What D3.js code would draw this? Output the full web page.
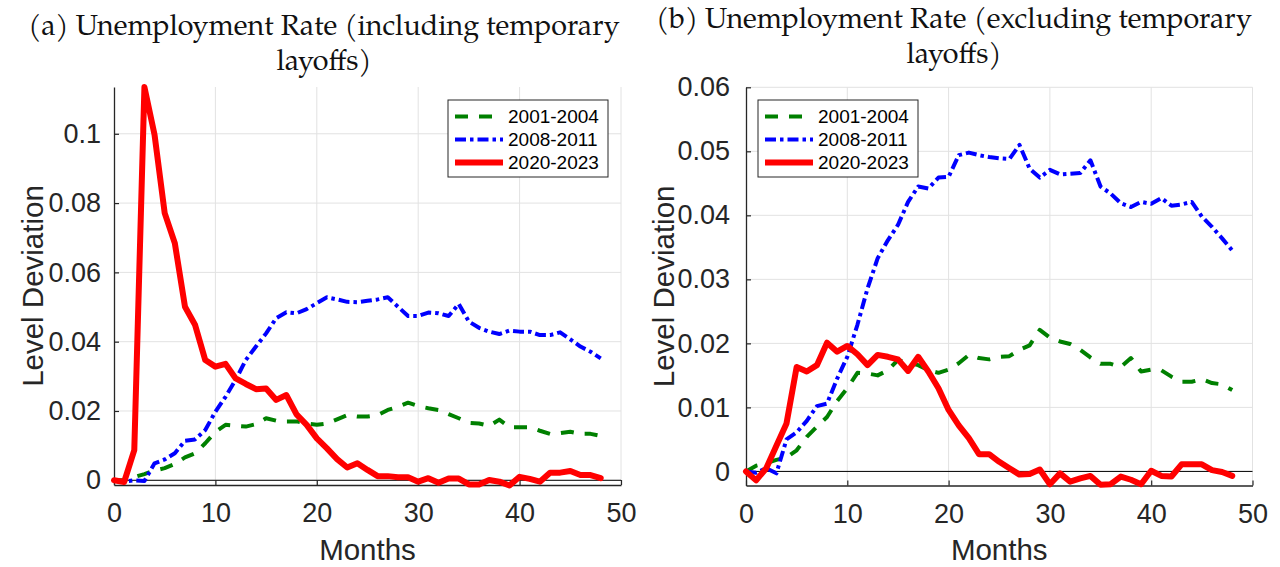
<!DOCTYPE html>
<html>
<head>
<meta charset="utf-8">
<script src="https://cdn.jsdelivr.net/npm/d3@7"></script>
<style>
  body { margin: 0; background: #fff; }
  svg { display: block; }
</style>
</head>
<body>
<svg id="fig" width="1280" height="567"></svg>
<script>
// Months since the start of each recession
const months = d3.range(0, 49);
const seriesNames = ["2001-2004", "2008-2011", "2020-2023"];

// (a) unemployment rate including temporary layoffs, deviation from start
const incl2001 = [
  0, 0, 0.0009, 0.0018, 0.0028, 0.0035, 0.0047, 0.0066, 0.0078, 0.0107,
  0.014, 0.016, 0.0157, 0.0155, 0.0162, 0.0179, 0.0172, 0.017, 0.017, 0.0164,
  0.016, 0.0164, 0.0176, 0.0188, 0.0184, 0.0184, 0.0188, 0.0203, 0.0212, 0.0224,
  0.0214, 0.0208, 0.0203, 0.0191, 0.0179, 0.0166, 0.0164, 0.0157, 0.0175, 0.0153,
  0.0153, 0.0153, 0.0143, 0.0134, 0.0136, 0.014, 0.0134, 0.0134, 0.0128
];
const incl2008 = [
  0, -0.0004, 0, -0.0002, 0.0049, 0.006, 0.0078, 0.0114, 0.0118, 0.0145,
  0.0198, 0.0241, 0.029, 0.0347, 0.0386, 0.0424, 0.0468, 0.0485, 0.0482, 0.0494,
  0.0511, 0.0528, 0.0522, 0.0515, 0.0514, 0.0518, 0.0522, 0.0528, 0.0501, 0.0474,
  0.0474, 0.0484, 0.0482, 0.0474, 0.0509, 0.0458, 0.044, 0.0429, 0.0422, 0.0432,
  0.0429, 0.0429, 0.0419, 0.0419, 0.0427, 0.0407, 0.0386, 0.0371, 0.0352
];
const incl2020 = [
  0, -0.0005, 0.0087, 0.1135, 0.0997, 0.0771, 0.0684, 0.0501, 0.0448, 0.0347,
  0.0328, 0.0336, 0.0294, 0.0278, 0.0263, 0.0265, 0.0232, 0.0246, 0.019, 0.016,
  0.0121, 0.0092, 0.0061, 0.0037, 0.0049, 0.003, 0.0012, 0.0012, 0.0009, 0.0009,
  -0.0004, 0.0006, -0.0007, 0.0005, 0.0005, -0.0012, -0.0012, 0.0001, -0.0004, -0.0015,
  0.001, 0.0004, -0.0004, 0.0022, 0.0022, 0.0027, 0.0015, 0.0015, 0.0006
];

// (b) unemployment rate excluding temporary layoffs, deviation from start
const excl2001 = [
  0, 0.0009, 0.0013, 0.0018, 0.0022, 0.0033, 0.0054, 0.007, 0.0085, 0.011,
  0.013, 0.0154, 0.0153, 0.015, 0.0158, 0.0174, 0.017, 0.0166, 0.0158, 0.0154,
  0.0159, 0.0169, 0.0182, 0.0177, 0.0175, 0.0179, 0.018, 0.019, 0.0197, 0.0221,
  0.0209, 0.0203, 0.0199, 0.019, 0.0178, 0.0168, 0.0168, 0.0163, 0.0177, 0.0156,
  0.0159, 0.0158, 0.0148, 0.014, 0.014, 0.0144, 0.0138, 0.0136, 0.0127
];
const excl2008 = [
  0, -0.0002, 0.0005, -0.0003, 0.005, 0.0061, 0.0079, 0.0102, 0.0106, 0.0145,
  0.0179, 0.0229, 0.0286, 0.0333, 0.0361, 0.0385, 0.0421, 0.0445, 0.0442, 0.0459,
  0.046, 0.0494, 0.0498, 0.0494, 0.0491, 0.0489, 0.0488, 0.051, 0.0473, 0.0459,
  0.0471, 0.0464, 0.0465, 0.0466, 0.0486, 0.0445, 0.0434, 0.0419, 0.0413, 0.0421,
  0.0418, 0.0427, 0.0415, 0.0417, 0.0421, 0.0398, 0.0382, 0.0364, 0.0345
];
const excl2020 = [
  0, -0.0014, 0.0005, 0.004, 0.0075, 0.0163, 0.0156, 0.0166, 0.0201, 0.0187,
  0.0196, 0.0183, 0.0166, 0.0182, 0.0179, 0.0175, 0.0157, 0.0179, 0.0156, 0.013,
  0.0096, 0.0072, 0.0052, 0.0027, 0.0027, 0.0015, 0.0005, -0.0005, -0.0004, 0.0003,
  -0.002, -0.0003, -0.0016, -0.0011, -0.0007, -0.0021, -0.002, -0.0008, -0.0013, -0.002,
  0.0001, -0.0007, -0.0008, 0.0011, 0.0011, 0.0011, 0.0002, -0.0001, -0.0007
];

// Axis ticks and labels
const xTicks = [0, 10, 20, 30, 40, 50];
const xTickLabels = ["0", "10", "20", "30", "40", "50"];
const leftYTicks = [0, 0.02, 0.04, 0.06, 0.08, 0.1];
const leftYTickLabels = ["0", "0.02", "0.04", "0.06", "0.08", "0.1"];
const rightYTicks = [0, 0.01, 0.02, 0.03, 0.04, 0.05, 0.06];
const rightYTickLabels = ["0", "0.01", "0.02", "0.03", "0.04", "0.05", "0.06"];

const titleA = ["(a) Unemployment Rate (including temporary", "layoffs)"];
const titleB = ["(b) Unemployment Rate (excluding temporary", "layoffs)"];
const yAxisTitle = "Level Deviation";
const xAxisTitle = "Months";

// Line styles per series
const styles = [
  { color: "#008000", width: 4, dash: "13,11" },
  { color: "#0000ff", width: 4, dash: "11,4,3.5,4" },
  { color: "#ff0000", width: 6, dash: null }
];

const SANS = "'Liberation Sans', Arial, Helvetica, sans-serif";
const SERIF = "'Palatino Linotype', Palatino, 'TeX Gyre Pagella', 'Liberation Serif', serif";
const AXIS_COLOR = "#262626";
const GRID_COLOR = "#e2e2e2";

const svg = d3.select("#fig");
svg.append("rect").attr("width", 1280).attr("height", 567).attr("fill", "#fff");

const panels = [
  {
    series: [incl2001, incl2008, incl2020],
    xRange: [114, 621], yRange: [485, 87],
    yDomain: [-0.00136, 0.1135],
    yTicks: leftYTicks, yTickLabels: leftYTickLabels,
    yPad: 13, title: titleA, titleX: 324, titleY: 35,
    yLabelX: 32, legendX: 448, legendY: 100
  },
  {
    series: [excl2001, excl2008, excl2020],
    xRange: [746, 1252.5], yRange: [485.5, 87.3],
    yDomain: [-0.0022, 0.06],
    yTicks: rightYTicks, yTickLabels: rightYTickLabels,
    yPad: 16, title: titleB, titleX: 954, titleY: 28,
    yLabelX: 663, legendX: 758, legendY: 100
  }
];

// Pick a title size so the first title line spans the same width in both panels
const probe = svg.append("text").attr("font-family", SERIF).attr("font-size", 28).text(titleA[0]);
const titleSize = 28 * 592 / probe.node().getComputedTextLength();
probe.remove();

panels.forEach(p => {
  const x = d3.scaleLinear().domain([0, 50]).range(p.xRange);
  const y = d3.scaleLinear().domain(p.yDomain).range(p.yRange);
  const g = svg.append("g");
  const [xl, xr] = p.xRange;
  const [yb, yt] = p.yRange;

  // grid
  g.append("g").selectAll("line").data(xTicks.slice(1)).join("line")
    .attr("x1", d => x(d)).attr("x2", d => x(d))
    .attr("y1", yt).attr("y2", yb)
    .attr("stroke", GRID_COLOR).attr("stroke-width", 1);
  g.append("g").selectAll("line").data(p.yTicks).join("line")
    .attr("x1", xl).attr("x2", xr)
    .attr("y1", d => y(d)).attr("y2", d => y(d))
    .attr("stroke", GRID_COLOR).attr("stroke-width", 1);

  // zero reference line
  g.append("line")
    .attr("x1", x(0)).attr("x2", x(50)).attr("y1", y(0)).attr("y2", y(0))
    .attr("stroke", "#000").attr("stroke-width", 1);

  // axes
  const xAxis = d3.axisBottom(x).tickValues(xTicks)
    .tickFormat((d, i) => xTickLabels[i]).tickSizeInner(-5).tickSizeOuter(0).tickPadding(18);
  const yAxis = d3.axisLeft(y).tickValues(p.yTicks)
    .tickFormat((d, i) => p.yTickLabels[i]).tickSizeInner(-5).tickSizeOuter(0).tickPadding(p.yPad);

  const gx = g.append("g").attr("transform", `translate(0,${yb})`).call(xAxis);
  const gy = g.append("g").attr("transform", `translate(${xl},0)`).call(yAxis);
  [gx, gy].forEach(a => {
    a.select(".domain").attr("stroke", AXIS_COLOR).attr("stroke-width", 1.3);
    a.selectAll(".tick line").attr("stroke", AXIS_COLOR).attr("stroke-width", 1.2);
    a.selectAll(".tick text").attr("fill", AXIS_COLOR)
      .attr("font-family", SANS).attr("font-size", 27);
  });

  // series lines
  const line = d3.line().x((d, i) => x(months[i])).y(d => y(d));
  p.series.forEach((vals, k) => {
    const s = styles[k];
    g.append("path").datum(vals)
      .attr("d", line)
      .attr("fill", "none")
      .attr("stroke", s.color)
      .attr("stroke-width", s.width)
      .attr("stroke-linejoin", "round")
      .attr("stroke-linecap", s.dash ? "butt" : "round")
      .attr("stroke-dasharray", s.dash);
  });

  // axis titles
  g.append("text")
    .attr("x", (xl + xr) / 2).attr("y", 560)
    .attr("text-anchor", "middle")
    .attr("font-family", SANS).attr("font-size", 29.5).attr("fill", AXIS_COLOR)
    .text(xAxisTitle);
  g.append("text")
    .attr("transform", `translate(${p.yLabelX},${(yt + yb) / 2}) rotate(-90)`)
    .attr("text-anchor", "middle").attr("dominant-baseline", "central")
    .attr("font-family", SANS).attr("font-size", 29.5).attr("fill", AXIS_COLOR)
    .text(yAxisTitle);

  // panel title
  p.title.forEach((t, i) => {
    g.append("text")
      .attr("x", p.titleX).attr("y", p.titleY + i * 35)
      .attr("text-anchor", "middle")
      .attr("font-family", SERIF).attr("font-size", titleSize).attr("fill", "#111")
      .text(t);
  });

  // legend
  const lg = g.append("g").attr("transform", `translate(${p.legendX},${p.legendY})`);
  lg.append("rect").attr("width", 160).attr("height", 77)
    .attr("fill", "#fff").attr("stroke", AXIS_COLOR).attr("stroke-width", 1);
  seriesNames.forEach((name, k) => {
    const s = styles[k];
    const cy = 16.5 + k * 23;
    lg.append("line").attr("x1", 7).attr("x2", 55).attr("y1", cy).attr("y2", cy)
      .attr("stroke", s.color).attr("stroke-width", s.width)
      .attr("stroke-dasharray", s.dash).attr("stroke-linecap", "butt");
    lg.append("text").attr("x", 60).attr("y", cy).attr("dy", "0.35em")
      .attr("font-family", SANS).attr("font-size", 19).attr("fill", "#000")
      .text(name);
  });
});
</script>
</body>
</html>
